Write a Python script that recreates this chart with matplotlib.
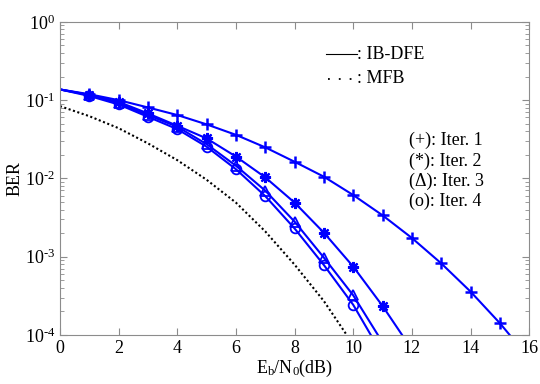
import numpy as np
import matplotlib
matplotlib.use('Agg')
import matplotlib.pyplot as plt
from matplotlib.ticker import FuncFormatter

plt.rcParams['font.family'] = ['Liberation Serif', 'DejaVu Serif']
plt.rcParams['mathtext.fontset'] = 'custom'
plt.rcParams['mathtext.rm'] = 'Liberation Serif'
plt.rcParams['mathtext.it'] = 'Liberation Serif:italic'

# Eb/N0 (dB) and BER
snr_it1 = [0, 1, 2, 3, 4, 5, 6, 7, 8, 9, 10, 11, 12, 13, 14, 15, 16]
ber_it1 = [0.137, 0.119, 0.1, 0.0806, 0.0645, 0.049, 0.036, 0.0249, 0.0163,
           0.0105, 0.00612, 0.00337, 0.00173, 0.00082, 0.000357, 0.000141, 5.0e-5]

snr_it2 = [0, 1, 2, 3, 4, 5, 6, 7, 8, 9, 10, 11, 12]
ber_it2 = [0.137, 0.116, 0.095, 0.0676, 0.047, 0.0324, 0.019, 0.0103, 0.0049,
           0.00202, 0.000745, 0.000234, 6.5e-5]

snr_it3 = [0, 1, 2, 3, 4, 5, 6, 7, 8, 9, 10, 11]
ber_it3 = [0.137, 0.117, 0.091, 0.0645, 0.0457, 0.0274, 0.0145, 0.00697, 0.0028,
           0.00097, 0.00032, 8e-5]

snr_it4 = [0, 1, 2, 3, 4, 5, 6, 7, 8, 9, 10, 11]
ber_it4 = [0.137, 0.113, 0.088, 0.0612, 0.0426, 0.0254, 0.0131, 0.00594, 0.00229,
           0.00078, 0.000242, 5.5e-5]

snr_mfb = [0, 1, 2, 3, 4, 5, 6, 7, 8, 9, 10]
ber_mfb = [0.0838, 0.0624, 0.0438, 0.028, 0.0171, 0.0096, 0.0049, 0.0021,
           0.00079, 0.00027, 7.5e-5]

iter_labels = ['(+): Iter. 1', '(*): Iter. 2', '(\u0394): Iter. 3', '(o): Iter. 4']

fig = plt.figure(figsize=(5.4, 3.84), dpi=100)
ax = fig.add_axes([0.111, 0.128, 0.869, 0.815])

blue = (0, 0, 1)
kw = dict(color=blue, lw=1.5, markevery=slice(1, None))
ax.plot(snr_it1, ber_it1, marker='+', ms=8, mew=1.8, **kw)
ax.plot(snr_it2, ber_it2, marker=(8, 2, 0), ms=8, mew=1.6, **kw)
ax.plot(snr_it3, ber_it3, marker='^', ms=7, mew=1.3, mfc='none', **kw)
ax.plot(snr_it4, ber_it4, marker='o', ms=7, mew=1.3, mfc='none', **kw)
ax.plot(snr_mfb, ber_mfb, color='k', lw=1.5, ls=(0, (1, 1.2)))

ax.set_yscale('log')
ax.set_xlim(0, 16)
ax.set_ylim(1e-4, 1)
ax.set_xticks(range(0, 17, 2))


def log_fmt(v, pos):
    e = int(round(np.log10(v)))
    s = str(e).replace('-', '\u2010')
    return r'$\mathrm{10}^{' + s + '}$'


ax.yaxis.set_major_formatter(FuncFormatter(log_fmt))

grey = '0.55'
for s in ax.spines.values():
    s.set_color(grey)
ax.tick_params(which='both', direction='in', top=True, right=True, colors=grey,
               labelcolor='k', labelsize=13)
ax.tick_params(which='major', length=5)
ax.tick_params(which='minor', length=3)

ax.set_xlabel(r'E$_\mathrm{b}$/N$_\mathrm{0}$(dB)', fontsize=13, labelpad=1)
ax.set_ylabel('BER', fontsize=13)
ax.yaxis.set_label_coords(-0.077, 0.5)

# legend drawn as text, like the original
ax.plot([0.567, 0.633], [0.896, 0.896], color='k', lw=0.8, transform=ax.transAxes)
ax.text(0.634, 0.896, ': IB-DFE', transform=ax.transAxes, va='center', fontsize=13)
ax.plot([0.572, 0.628], [0.818, 0.818], color='k', lw=1.3, ls=(0, (1, 5)),
        transform=ax.transAxes)
ax.text(0.634, 0.818, ': MFB', transform=ax.transAxes, va='center', fontsize=13)

for i, lab in enumerate(iter_labels):
    ax.text(0.744, 0.62 - i * 0.065, lab, transform=ax.transAxes, va='center',
            fontsize=13)

fig.savefig('out.png', dpi=100)
